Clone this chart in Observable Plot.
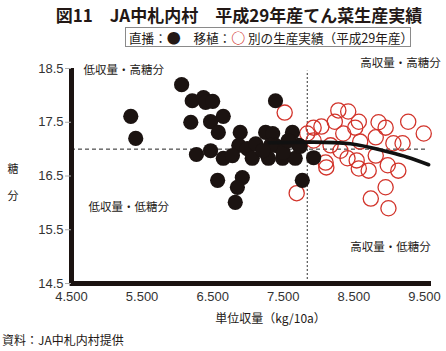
<!DOCTYPE html>
<html>
<head>
<meta charset="utf-8">
<script src="https://cdn.jsdelivr.net/npm/d3@7"></script>
<script src="https://cdn.jsdelivr.net/npm/@observablehq/plot@0.6"></script>
<style>
  body { margin:0; width:446px; height:351px; position:relative; background:#fff; overflow:hidden;
         font-family:"Noto Sans CJK JP","Noto Sans",sans-serif; color:#231815; }
  .abs { position:absolute; white-space:nowrap; }
  #title { top:2px; left:0; width:478px; text-align:center; font-weight:bold; font-size:17px; }
  #legend { top:27px; left:125px; width:286px; height:20px; border:1px solid #8a8a8a; font-size:12.6px; line-height:19px; padding-left:3px; box-sizing:border-box; }
  #chart { top:52px; left:0; }
  #caption { top:331px; left:2px; font-size:12px; }
</style>
</head>
<body>
<div id="title" class="abs"></div>
<div id="legend" class="abs"></div>
<div id="chart" class="abs"></div>
<div id="caption" class="abs"></div>
<script>
// ---- Data ----
const titleText = "図11　JA中札内村　平成29年産てん菜生産実績";
const legendParts = ["直播：", "●", "　移植：", "○", " 別の生産実績（平成29年産）"];
const captionText = "資料：JA中札内村提供";
const xLabel = "単位収量（kg/10a）";
const yLabel = "糖\n分";

// 直播 (black dots): yield kg/10a, sugar %
const blackX = [6060,5340,5410,6210,6370,6400,6500,6190,6470,6650,6580,6270,6470,6650,6570,6890,6870,6780,6990,7060,7110,7250,7350,7390,7290,7490,7630,7720,7670,7930,7390,6920,6850,6820,7770,7500,7320,7740,7210,7570];
const blackY = [18.20,17.61,17.20,17.90,17.96,17.87,17.89,17.50,17.51,17.61,17.31,16.90,16.97,16.83,16.42,17.31,17.07,16.88,17.01,16.83,17.10,17.31,17.29,17.07,16.83,16.83,17.31,17.07,16.83,16.84,17.90,16.47,16.29,16.01,16.42,16.94,17.07,17.05,16.97,17.16];

// 移植 (red open circles)
const redX = [7520,7930,8040,8230,8280,8420,8350,8520,8570,8850,8950,9270,9490,8810,9060,9190,8590,8310,8100,8410,8540,8570,8710,8810,8980,9130,8950,8740,8990,7690,8110,7840,7930,8170];
const redY = [17.68,17.40,17.42,17.51,17.72,17.70,17.29,17.40,17.51,17.50,17.40,17.51,17.29,17.22,17.11,17.11,17.14,16.97,16.75,16.83,16.79,16.64,16.60,16.88,16.70,16.60,16.29,16.08,15.90,16.18,16.66,17.29,17.16,17.07];

// trend curve
const curveX = [7300,7880,8450,8920,9260,9560];
const curveY = [17.12,17.13,17.10,16.97,16.85,16.71];

// reference lines
const refX = 7840;
const refY = 17.0;

// ticks
const xTicks = [4500,5500,6500,7500,8500,9500];
const xTickLabels = ["4.500","5.500","6.500","7.500","8.500","9.500"];
const yTicks = [14.5,15.5,16.5,17.5,18.5];
const yTickLabels = ["14.5","15.5","16.5","17.5","18.5"];

// quadrant labels
const quadText = ["低収量・高糖分","高収量・高糖分","低収量・低糖分","高収量・低糖分"];
const quadX = [4670,8590,4740,8450];
const quadY = [18.46,18.59,15.91,15.17];

// ---- Build ----
document.getElementById("title").textContent = titleText;
const lg = document.getElementById("legend");
legendParts.forEach((t, i) => {
  const s = document.createElement("span");
  s.textContent = t;
  if (i === 3) { s.style.color = "#d2342b"; s.style.fontWeight = "bold"; }
  if (i === 1 || i === 3) { s.style.fontSize = "14px"; }
  lg.appendChild(s);
});
document.getElementById("caption").textContent = captionText;

const black = blackX.map((x, i) => ({x, y: blackY[i]}));
const red = redX.map((x, i) => ({x, y: redY[i]}));
const curve = curveX.map((x, i) => ({x, y: curveY[i]}));
const quads = quadText.map((t, i) => ({t, x: quadX[i], y: quadY[i]}));
const numFont = "'Liberation Sans', Arial, sans-serif";

const chart = Plot.plot({
  width: 446,
  height: 280,
  marginTop: 16,
  marginBottom: 49,
  marginLeft: 71,
  marginRight: 15,
  style: {fontFamily: "'Noto Sans CJK JP', sans-serif", color: "#231815", background: "transparent"},
  x: {domain: [4500, 9600]},
  y: {domain: [14.5, 18.5]},
  marks: [
    Plot.ruleY([refY], {x1: 4500, x2: 9550, stroke: "#222", strokeWidth: 1, strokeDasharray: "4,3"}),
    Plot.ruleX([refX], {y1: 14.5, y2: 18.45, stroke: "#333", strokeWidth: 1, strokeDasharray: "2,2"}),
    Plot.dot(red, {x: "x", y: "y", r: 7.6, stroke: "#d2342b", strokeWidth: 1.3, fill: "none"}),
    Plot.dot(black, {x: "x", y: "y", r: 7.6, fill: "#1b1311", stroke: "none"}),
    Plot.line(curve, {x: "x", y: "y", curve: "natural", stroke: "#111", strokeWidth: 3.6}),
    Plot.ruleX([4500], {y1: 14.5, y2: 18.5, stroke: "#1b1311", strokeWidth: 5}),
    Plot.ruleY([14.5], {x1: 4480, x2: 9600, stroke: "#1b1311", strokeWidth: 5}),
    Plot.axisY(yTicks, {tickFormat: (d, i) => yTickLabels[i], tickSize: 6, tickPadding: 2, stroke: "#aaa",
      fontSize: 13, fontFamily: numFont, fill: "#333", label: null}),
    Plot.axisX(xTicks, {tickFormat: (d, i) => xTickLabels[i], tickSize: 0, tickPadding: 8,
      fontSize: 13, fontFamily: numFont, fill: "#333", label: null}),
    Plot.text(quads, {x: "x", y: "y", text: "t", textAnchor: "start", fontSize: 11.5, fill: "#231815"}),
    Plot.text([xLabel], {frameAnchor: "bottom", text: d => d, dy: 39, dx: 19, fontSize: 12, fill: "#231815"}),
    Plot.text([yLabel], {frameAnchor: "left", text: d => d, dx: -64, dy: 2, fontSize: 11, lineHeight: 2.4, fill: "#231815"})
  ]
});
document.getElementById("chart").appendChild(chart);
</script>
</body>
</html>
